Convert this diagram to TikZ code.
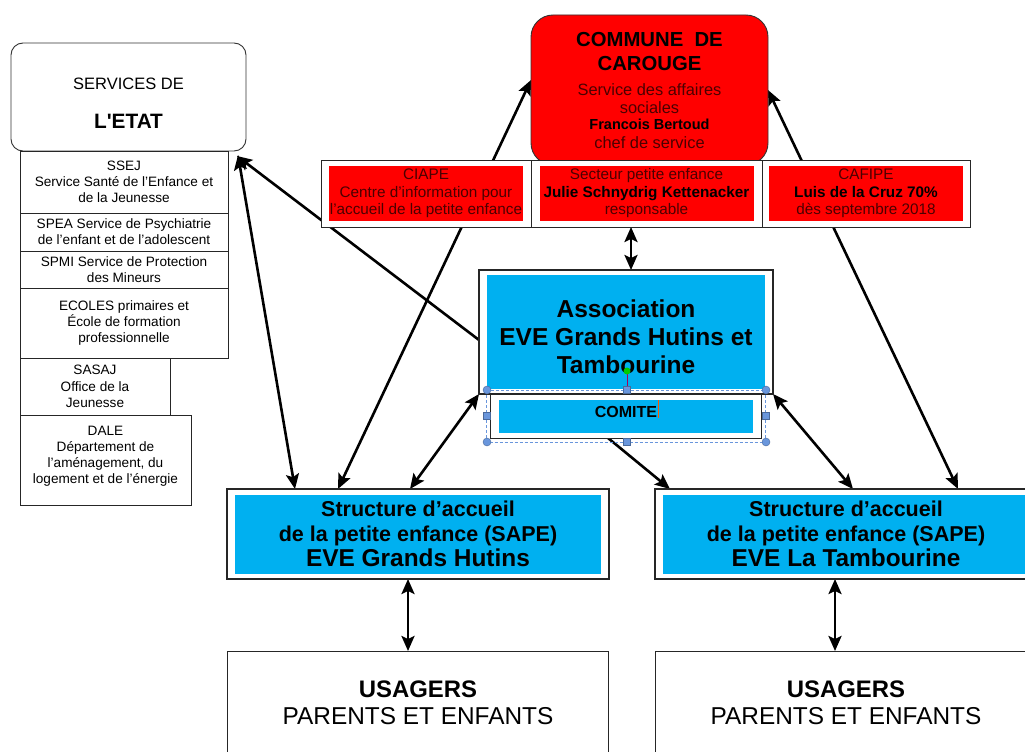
\documentclass[tikz,border=0pt]{standalone}
\usepackage{fontspec}
\setmainfont{Liberation Sans}[Ligatures=TeXOff]
\usetikzlibrary{arrows.meta,positioning,backgrounds}

\definecolor{rouge}{RGB}{255,0,0}
\definecolor{rougefonce}{RGB}{75,0,0}
\definecolor{bleuciel}{RGB}{0,176,240}
\definecolor{poignee}{RGB}{105,150,220}

\newcommand{\fs}[2]{\fontsize{#1}{#2}\selectfont}

\begin{document}
\begin{tikzpicture}[x=1pt, y=-1pt, >={Stealth[length=15pt, width=13pt, inset=3pt]}, node distance=0pt,
	wh/.style 2 args={minimum width=#1pt, minimum height=#2pt},
	frame/.style={draw=black!85, line width=1.3pt, fill=white, inner sep=0pt, outer sep=0pt},
	list/.style={draw=black!85, line width=0.9pt, fill=white, inner sep=0pt, outer sep=0pt, align=center, font=\fs{13.6}{16.2}},
	rouge/.style={fill=rouge, inner sep=0pt, align=center, text=rougefonce, font=\fs{15.3}{17.5}},
	bleu/.style={fill=bleuciel, inner sep=0pt, align=center},
	link/.style={line width=2.6pt}]
	
	\useasboundingbox (0,0) rectangle (1025,752);
	
	% Etat {etat, ssej, spea, spmi, ecoles, sasaj, dale}
	\node [draw=black!80, line width=0.9pt, rounded corners=12pt, outer sep=0pt, align=center, wh={235}{108}, font=\fs{16.5}{20}]
		(etat) at (128.5,97) {\rule{0pt}{24pt}SERVICES DE\\[19pt]\fs{20.8}{24}\bfseries L'ETAT};
	\node [list, wh={208}{62}, below right=0pt and 9pt of etat.south west] (ssej) {SSEJ\\Service Santé de l’Enfance et\\de la Jeunesse};
	\node [list, wh={208}{38}, below=of ssej]  (spea)   {SPEA Service de Psychiatrie\\de l’enfant et de l’adolescent};
	\node [list, wh={208}{37}, below=of spea]  (spmi)   {SPMI Service de Protection\\des Mineurs};
	\node [list, wh={208}{70}, below=of spmi]  (ecoles) {ECOLES primaires et\\École de formation\\professionnelle};
	\node [list, wh={150}{57}, below right=of ecoles.south west] (sasaj) {SASAJ\\Office de la\\Jeunesse};
	\node [list, wh={171}{90}, below right=of sasaj.south west]  (dale)  {DALE\\Département de\\l’aménagement, du\\logement et de l’énergie\rule[-10pt]{0pt}{10pt}};
	
	% Commune {commune, ciape, secteur, cafipe}
	\node [draw=black!80, fill=rouge, line width=0.9pt, rounded corners=22pt, outer sep=0pt, align=center, wh={237}{150}, font=\fs{16.4}{18}]
		(commune) at (649.5,90) {%
		\fs{20.3}{24}\bfseries COMMUNE~~DE\\[6pt]
		\fs{20.3}{24}\bfseries CAROUGE\\[7pt]
		\color{rougefonce}Service des affaires\\
		\color{rougefonce}sociales\\[-2pt]
		\fs{14.5}{16}\bfseries Francois Bertoud\\[1pt]
		\color{rougefonce}chef de service};
	\node [frame, line width=1pt, wh={210}{67}] (ciapeCell) at (426,193.5) {};
	\node [frame, line width=1pt, wh={231}{67}, right=of ciapeCell]   (secteurCell) {};
	\node [frame, line width=1pt, wh={208}{67}, right=of secteurCell] (cafipeCell)  {};
	\node [rouge, wh={194}{55}] (ciape) at (ciapeCell) {CIAPE\\Centre d’information pour\\l’accueil de la petite enfance};
	\node [rouge, wh={214}{55}] (secteur) at (secteurCell) {Secteur petite enfance\\{\color{black}\fs{15.3}{17}\bfseries Julie Schnydrig Kettenacker}\\responsable};
	\node [rouge, wh={194}{55}] (cafipe) at (cafipeCell) {CAFIPE\\{\color{black}\fs{15.3}{17}\bfseries Luis de la Cruz 70\%}\\dès septembre 2018};
	
	% Association {assoc, comite}
	\node [frame, wh={294}{124}] (assoc) at (626,332) {};
	\node [bleu, wh={278}{114}, font=\fs{24.5}{28}\bfseries] (assocIn) at (assoc) {\rule{0pt}{28pt}Association\\EVE Grands Hutins et\\Tambourine};
	\node [frame, line width=1pt, wh={271}{44}, below=of assoc] (comite) {};
	\node [bleu, wh={254}{33}, font=\fs{16}{18}\bfseries, text height=12pt, text depth=10pt] (comiteIn) at (comite) {COMITE};
	
	% Structures {sapeGH, sapeTB}
	\node [frame, wh={382}{90}] (sapeGH) at (418,534) {};
	\node [bleu, wh={366}{79}, font=\fs{21.5}{25}\bfseries] (sapeGHin) at (sapeGH) {Structure d’accueil\\de la petite enfance (SAPE)\\\fs{24.4}{25}EVE Grands Hutins};
	\node [frame, wh={382}{90}] (sapeTB) at (846,534) {};
	\node [bleu, wh={366}{79}, font=\fs{21.5}{25}\bfseries] (sapeTBin) at (sapeTB) {Structure d’accueil\\de la petite enfance (SAPE)\\\fs{24.4}{25}EVE La Tambourine};
	
	% Usagers {usagGH, usagTB}
	\node [frame, line width=1pt, wh={381}{104}, align=center, font=\fs{24.4}{27}, below=72pt of sapeGH] (usagGH) {\bfseries\fs{23.9}{27}USAGERS\\PARENTS ET ENFANTS};
	\node [frame, line width=1pt, wh={382}{104}, align=center, font=\fs{24.4}{27}, below=72pt of sapeTB] (usagTB) {\bfseries\fs{23.9}{27}USAGERS\\PARENTS ET ENFANTS};
	
	% Paths
	\begin{scope}[on background layer]
		\fill [white] (0,0) rectangle (1025,752);
		\path [link, <->] ([xshift=-8pt, yshift=-4pt]etat.south east) edge ([xshift=-123pt]sapeGH.north);
		\path [link, ->]  ([yshift=-8pt]assoc.west) edge ([xshift=-9pt, yshift=-5pt]etat.south east);
		\path [link, <->] ([yshift=10pt]commune.west) edge ([xshift=-80pt]sapeGH.north);
		\path [link, <->] (commune.east) edge ([xshift=112pt]sapeTB.north);
		\path [link, <->] ([xshift=5pt]assoc.north) edge ([xshift=5pt]assoc.north |- secteurCell.south);
		\path [link, <->] (assoc.south west) edge ([xshift=-8pt]sapeGH.north);
		\path [link, <->] (assoc.south east) edge ([xshift=7pt]sapeTB.north);
		\path [link, ->]  ([xshift=-18pt]comite.south) edge ([xshift=-176pt]sapeTB.north);
		\path [link, <->] ([xshift=-10pt]sapeGH.south) edge ([xshift=-10pt]usagGH.north);
		\path [link, <->] ([xshift=-11pt]sapeTB.south) edge ([xshift=-11pt]usagTB.north);
	\end{scope}
	
	% selection handles round the comite
	\draw [poignee, densely dashed, line width=0.7pt] ([xshift=-4pt, yshift=4pt]comite.north west) rectangle ([xshift=4pt, yshift=-4pt]comite.south east);
	\draw [violet!70!red, line width=0.8pt] (627,371) -- (627,390);
	\fill [green!80!black] (627,371) circle (3.5pt);
	\foreach \hx/\hy in {487/390, 766/390, 487/442, 766/442}
		\filldraw [fill=poignee, draw=poignee!70!black, line width=0.4pt] (\hx,\hy) circle (4pt);
	\foreach \hx/\hy in {626.5/390, 626.5/442, 487/416, 766/416}
		\filldraw [fill=poignee, draw=poignee!70!black, line width=0.4pt] (\hx-3.5,\hy-3.5) rectangle (\hx+3.5,\hy+3.5);
	\draw [orange!70!red, line width=1pt] (658,400) -- (658,418);
	
\end{tikzpicture}
\end{document}
